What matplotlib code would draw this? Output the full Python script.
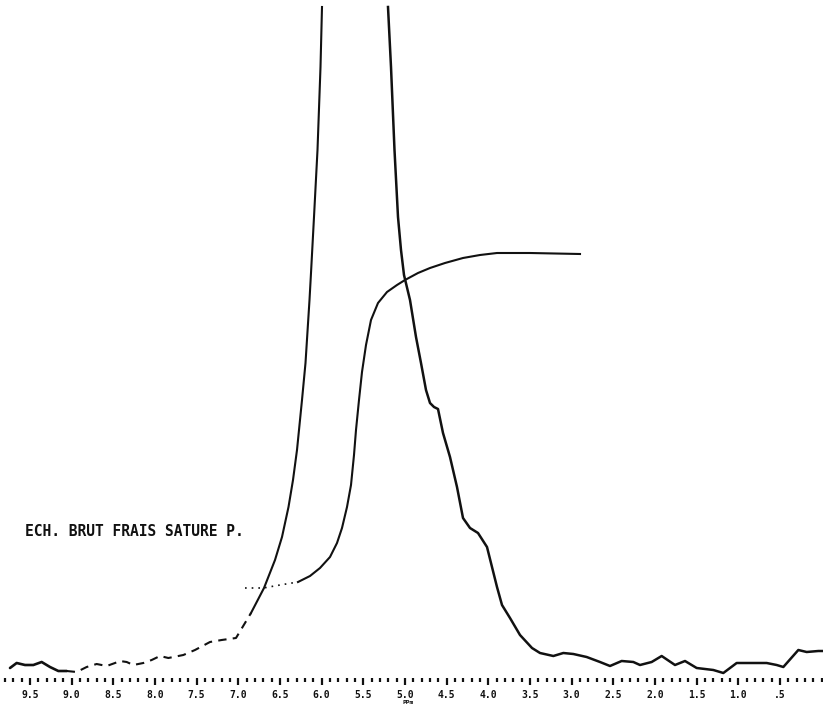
import matplotlib
matplotlib.use("Agg")
import matplotlib.pyplot as plt
from matplotlib.ticker import MultipleLocator, FixedLocator
import numpy as np

# ---- data (x in ppm, y in arbitrary intensity units) ----
spec_left_ppm = [9.74, 9.66, 9.56, 9.46, 9.36, 9.26, 9.16, 9.06, 8.94, 8.82, 8.70, 8.58,
                 8.48, 8.42, 8.34, 8.26, 8.14, 8.04, 7.94, 7.84, 7.66, 7.52, 7.34, 7.20,
                 7.028, 6.848, 6.692, 6.56, 6.476, 6.398, 6.344, 6.296, 6.272, 6.236,
                 6.194, 6.146, 6.128, 6.092, 6.05, 6.014, 5.996]
spec_left_int = [-0.3, 0.2, 0.0, 0.0, 0.3, -0.2, -0.6, -0.6, -0.7, -0.2, 0.1, -0.1,
                 0.2, 0.4, 0.3, 0.0, 0.2, 0.5, 0.9, 0.7, 1.0, 1.5, 2.3, 2.5,
                 2.7, 5.2, 7.7, 10.5, 12.8, 15.8, 18.5, 21.5, 23.5, 26.5,
                 30.2, 36.5, 39.2, 44.8, 51.5, 59.8, 65.8]

spec_right_ppm = [5.204, 5.168, 5.126, 5.084, 5.048, 5.012, 4.94, 4.868, 4.808, 4.748,
                  4.70, 4.652, 4.604, 4.544, 4.46, 4.376, 4.304, 4.22, 4.124, 4.016,
                  3.896, 3.836, 3.74, 3.62, 3.476, 3.38, 3.22, 3.10, 2.98, 2.82, 2.66,
                  2.54, 2.40, 2.26, 2.18, 2.04, 1.92, 1.76, 1.64, 1.50, 1.30, 1.18,
                  1.02, 0.90, 0.74, 0.66, 0.54, 0.46, 0.28, 0.18, 0.04, -0.02]
spec_right_int = [65.8, 59.8, 51.5, 44.8, 41.5, 39.0, 36.5, 32.8, 30.2, 27.5,
                  26.2, 25.8, 25.6, 23.2, 20.8, 17.8, 14.7, 13.7, 13.2, 11.8,
                  7.8, 6.0, 4.7, 3.0, 1.7, 1.2, 0.9, 1.2, 1.1, 0.8, 0.3,
                  -0.1, 0.4, 0.3, 0.0, 0.3, 0.9, 0.0, 0.4, -0.3, -0.5, -0.8,
                  0.2, 0.2, 0.2, 0.2, 0.0, -0.2, 1.5, 1.3, 1.4, 1.4]

integ_ppm = [6.92, 6.70, 6.50, 6.284, 6.14, 6.02, 5.90, 5.816, 5.756, 5.696, 5.648,
             5.612, 5.588, 5.552, 5.516, 5.468, 5.408, 5.324, 5.216, 5.096, 5.00,
             4.844, 4.70, 4.52, 4.304, 4.10, 3.896, 3.50, 2.90]
integ_int = [7.7, 7.7, 8.0, 8.3, 8.9, 9.7, 10.8, 12.2, 13.7, 15.8, 18.0,
             21.0, 23.5, 26.5, 29.3, 32.0, 34.5, 36.2, 37.3, 38.0, 38.5,
             39.2, 39.7, 40.2, 40.7, 41.0, 41.2, 41.2, 41.1]

tick_values = [9.5, 9.0, 8.5, 8.0, 7.5, 7.0, 6.5, 6.0, 5.5, 5.0, 4.5, 4.0, 3.5, 3.0,
               2.5, 2.0, 1.5, 1.0, 0.5]
tick_labels = ["9.5", "9.0", "8.5", "8.0", "7.5", "7.0", "6.5", "6.0", "5.5", "5.0",
               "4.5", "4.0", "3.5", "3.0", "2.5", "2.0", "1.5", "1.0", ".5"]

sample_label = "ECH. BRUT FRAIS SATURE P."
unit_label = "PPm"

# ---- figure ----
W, H = 823, 707
fig = plt.figure(figsize=(W / 100, H / 100), dpi=100)
ax = fig.add_axes([0, 29 / H, 1, 678 / H])
ax.set_xlim(9.86, -0.016)
ax.set_ylim(-1.3, 66.5)

ink = "#111111"
lw = 1.5

sl_p = np.array(spec_left_ppm)
sl_i = np.array(spec_left_int)
# solid noisy start, fragmented middle (pen skipping), solid flank
ax.plot(sl_p[:8], sl_i[:8], color=ink, lw=lw + 0.4, solid_capstyle="round",
        solid_joinstyle="round")
ax.plot(sl_p[7:26], sl_i[7:26], color=ink, lw=lw, linestyle=(0, (4, 3)))
ax.plot(sl_p[25:], sl_i[25:], color=ink, lw=lw, solid_joinstyle="round")
ax.plot(spec_right_ppm, spec_right_int, color=ink, lw=lw + 0.3,
        solid_joinstyle="round")

ip = np.array(integ_ppm)
ii = np.array(integ_int)
ax.plot(ip[:4], ii[:4], color=ink, lw=1.2, linestyle=(0, (1, 3)))
ax.plot(ip[3:], ii[3:], color=ink, lw=lw, solid_joinstyle="round")

ax.text(9.56, (665 - 531) / 10, sample_label, fontsize=10.5, fontweight="bold",
        family="DejaVu Sans Mono", color=ink, va="center", ha="left")

for s in ax.spines.values():
    s.set_visible(False)
ax.yaxis.set_visible(False)
ax.xaxis.set_major_locator(FixedLocator(tick_values))
ax.set_xticklabels(tick_labels)
ax.xaxis.set_minor_locator(MultipleLocator(0.1))
ax.tick_params(axis="x", which="major", direction="out", length=5, width=1.6,
               color=ink, pad=4, labelsize=7, labelcolor=ink)
ax.tick_params(axis="x", which="minor", direction="out", length=3, width=1.6, color=ink)
for lab in ax.get_xticklabels():
    lab.set_fontweight("bold")
    lab.set_family("DejaVu Sans Mono")

fig.text(408 / W, 1 - 702 / H, unit_label, fontsize=4.5, fontweight="bold",
         family="DejaVu Sans Mono", color=ink, ha="center", va="center")

fig.savefig("out.png", dpi=100, facecolor="white")
